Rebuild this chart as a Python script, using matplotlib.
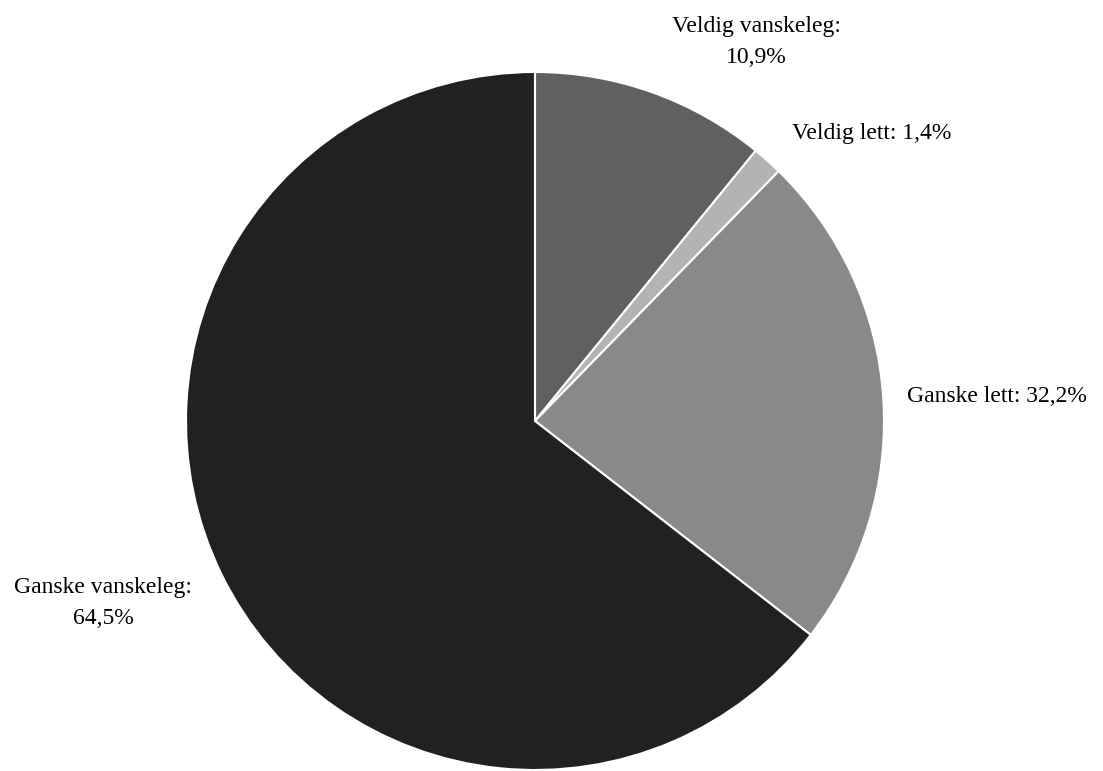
import matplotlib
matplotlib.use('Agg')
import matplotlib.pyplot as plt

# slice order: clockwise from 12 o'clock
categories = ['Veldig vanskeleg', 'Veldig lett', 'Ganske lett', 'Ganske vanskeleg']
# drawn slice shares (the Ganske lett wedge is drawn smaller than its label says)
values = [10.9, 1.4, 23.2, 64.5]
label_pct = ['10,9%', '1,4%', '32,2%', '64,5%']
colors = ['#606060', '#b3b3b3', '#898989', '#212121']

W, H = 1103, 771
fig = plt.figure(figsize=(W / 100, H / 100), dpi=100)
fig.patch.set_facecolor('white')

# pie centre and radius in pixels
cx, cy, r = 535, 421, 349
ax = fig.add_axes([(cx - r) / W, (H - cy - r) / H, 2 * r / W, 2 * r / H])
ax.pie(values, colors=colors, startangle=90, counterclock=False,
       wedgeprops={'edgecolor': 'white', 'linewidth': 1.5})
ax.set_xlim(-1, 1)
ax.set_ylim(-1, 1)
ax.set_aspect('equal')
ax.axis('off')

font = ['Liberation Serif', 'DejaVu Serif']
fs = 17

def px(x, y):
    return x / W, 1 - y / H

# label placements (pixels), kept apart from the data
fig.text(*px(756, 42), categories[0] + ':\n' + label_pct[0], ha='center', va='center',
         fontsize=fs, family=font, linespacing=1.6, multialignment='center')
fig.text(*px(792, 133), categories[1] + ': ' + label_pct[1], ha='left', va='center',
         fontsize=fs, family=font)
fig.text(*px(907, 397), categories[2] + ': ' + label_pct[2], ha='left', va='center',
         fontsize=fs, family=font)
fig.text(*px(103, 603), categories[3] + ':\n' + label_pct[3], ha='center', va='center',
         fontsize=fs, family=font, linespacing=1.6, multialignment='center')

fig.savefig('out.png', dpi=100, facecolor='white')
